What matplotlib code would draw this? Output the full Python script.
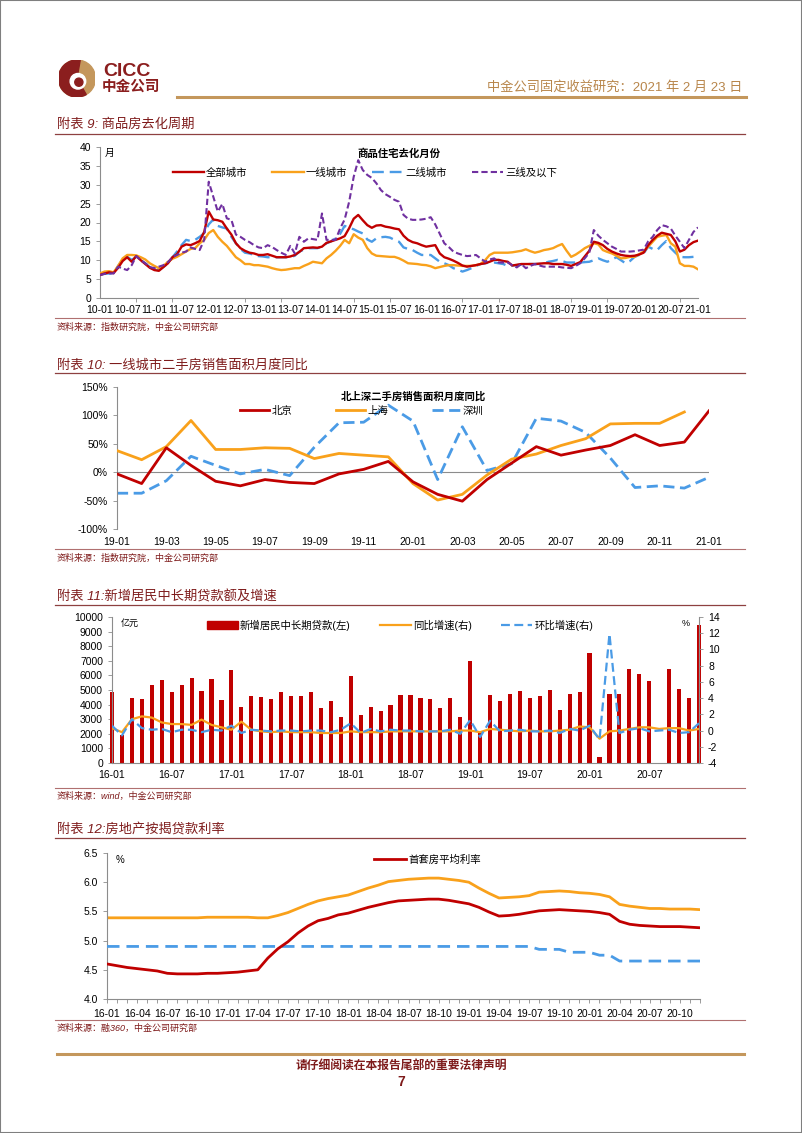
import numpy as np
import matplotlib
matplotlib.use('Agg')
import matplotlib.pyplot as plt
from matplotlib.lines import Line2D
from matplotlib.patches import Rectangle, Circle, Wedge, Patch

plt.rcParams['font.family'] = ['Liberation Sans', 'Noto Sans CJK SC']
plt.rcParams['axes.unicode_minus'] = False

# ---------------- data ----------------
# chart 1: 商品住宅去化月份, monthly 2010-01 .. 2021-01
c1_labels = ['10-01', '10-07', '11-01', '11-07', '12-01', '12-07', '13-01', '13-07',
             '14-01', '14-07', '15-01', '15-07', '16-01', '16-07', '17-01', '17-07',
             '18-01', '18-07', '19-01', '19-07', '20-01', '20-07', '21-01']
c1_all = [6.1, 6.5, 6.8, 6.6, 8.0, 9.8, 10.8, 9.6, 11.1, 10.0,
          9.0, 8.0, 7.4, 7.2, 8.2, 9.2, 10.8, 11.6, 13.6, 14.2,
          14.0, 14.5, 15.1, 17.5, 22.9, 20.8, 20.6, 20.2, 18.4, 16.8,
          14.5, 13.2, 12.5, 12.0, 11.8, 11.4, 11.4, 11.6, 11.2, 10.8,
          10.8, 10.8, 11.0, 11.4, 12.2, 13.2, 13.3, 13.4, 13.3, 13.6,
          14.6, 15.0, 15.4, 15.8, 16.4, 18.5, 21.0, 22.0, 20.6, 19.3,
          18.6, 19.2, 19.3, 18.9, 18.7, 18.4, 18.2, 16.5, 15.4, 14.8,
          14.5, 14.0, 13.6, 13.8, 14.0, 11.8, 10.8, 10.4, 9.9, 9.3,
          8.6, 8.3, 8.5, 8.7, 9.0, 9.2, 9.6, 10.1, 10.1, 9.8,
          9.6, 8.6, 8.8, 9.0, 9.0, 9.0, 9.0, 9.1, 9.2, 9.2,
          9.0, 9.0, 9.0, 8.8, 8.5, 9.0, 9.5, 11.0, 12.5, 14.9,
          14.6, 14.0, 13.0, 12.3, 11.8, 11.4, 11.2, 11.1, 11.2, 11.5,
          12.0, 14.0, 15.4, 16.5, 17.3, 17.0, 16.7, 15.0, 12.3, 12.8,
          14.0, 14.8, 15.2]
c1_tier1 = [6.5, 7.0, 7.1, 6.8, 8.5, 10.5, 11.4, 11.4, 11.3, 10.8,
            10.2, 9.2, 8.5, 7.9, 8.5, 9.6, 10.4, 10.9, 11.6, 12.3,
            13.0, 13.2, 14.5, 15.4, 17.2, 18.0, 16.2, 14.9, 13.8, 12.3,
            10.8, 10.0, 9.0, 9.0, 8.7, 8.7, 8.5, 8.3, 7.9, 7.6,
            7.4, 7.5, 7.7, 7.9, 7.9, 8.5, 9.0, 9.6, 9.4, 9.2,
            10.5, 11.4, 12.5, 13.8, 15.4, 14.5, 16.9, 16.0, 15.4, 13.2,
            11.8, 11.2, 11.1, 11.0, 10.9, 10.9, 10.5, 9.9, 9.2, 9.1,
            9.0, 8.8, 8.7, 8.4, 7.9, 8.2, 8.5, 8.7, 8.7, 8.6,
            8.5, 8.5, 8.5, 8.7, 9.0, 10.0, 11.4, 12.0, 12.0, 12.0,
            12.0, 12.1, 12.3, 12.5, 12.9, 12.4, 12.0, 12.3, 12.7, 12.9,
            13.2, 13.8, 14.3, 12.5, 10.9, 11.5, 12.3, 13.2, 13.8, 14.5,
            14.2, 12.7, 12.2, 11.8, 11.2, 10.5, 10.6, 10.9, 10.9, 11.6,
            12.3, 13.6, 14.9, 16.2, 16.5, 16.7, 14.5, 13.6, 9.2, 8.5,
            8.5, 8.3, 7.6]
c1_tier2 = [6.1, 6.4, 6.5, 6.5, 8.5, 10.2, 10.9, 10.1, 10.9, 10.0,
            9.2, 8.2, 7.5, 7.4, 8.2, 9.2, 10.8, 12.3, 14.0, 15.4,
            15.1, 15.4, 16.2, 17.2, 19.5, 20.8, 19.1, 18.7, 18.4, 16.2,
            14.5, 13.0, 12.0, 11.8, 11.4, 11.1, 11.0, 10.8, 10.8, 10.8,
            10.8, 10.8, 10.8, 11.2, 12.3, 12.8, 13.2, 13.2, 13.2, 13.6,
            14.5, 15.0, 15.8, 17.0, 19.1, 18.6, 18.2, 17.6, 17.1, 15.5,
            14.9, 15.8, 16.1, 16.2, 16.0, 15.4, 14.9, 13.4, 13.0, 12.7,
            12.0, 11.4, 11.4, 11.4, 10.5, 9.6, 9.2, 8.7, 7.9, 7.5,
            7.0, 7.4, 7.9, 8.5, 9.0, 9.2, 9.4, 9.4, 9.2, 9.0,
            8.5, 8.6, 8.7, 8.9, 9.0, 9.0, 9.0, 9.0, 9.2, 9.6,
            9.8, 10.1, 9.8, 9.4, 9.4, 9.4, 9.4, 9.5, 9.6, 10.0,
            10.5, 10.0, 9.6, 10.2, 10.8, 10.0, 9.2, 9.8, 10.9, 11.4,
            11.8, 13.6, 13.0, 12.7, 14.0, 15.1, 13.2, 12.0, 10.9, 10.8,
            10.8, 10.9, np.nan]
c1_tier3 = [6.1, 6.4, 6.5, 6.5, 8.3, 7.8, 7.4, 8.7, 11.1, 10.0,
            9.2, 8.2, 7.9, 8.3, 8.7, 9.5, 10.8, 11.4, 12.0, 12.3,
            13.4, 13.0, 12.7, 15.4, 30.8, 26.8, 22.9, 24.9, 21.1, 20.7,
            16.8, 16.2, 15.4, 14.8, 14.0, 13.4, 13.2, 14.0, 13.5, 12.7,
            12.0, 11.4, 13.8, 11.8, 16.2, 14.9, 15.8, 15.6, 15.4, 22.4,
            15.4, 15.4, 15.4, 18.4, 20.8, 25.5, 32.1, 36.5, 33.9, 32.6,
            31.8, 30.4, 28.6, 27.5, 26.8, 26.0, 25.5, 22.0, 21.0, 20.7,
            20.7, 20.8, 21.0, 21.4, 19.5, 17.0, 14.5, 13.5, 12.3, 11.8,
            11.4, 11.1, 11.2, 11.4, 10.5, 9.6, 10.2, 10.5, 9.4, 9.4,
            9.4, 8.7, 8.1, 9.0, 7.9, 8.5, 9.0, 8.6, 8.3, 8.3,
            8.3, 8.3, 8.1, 8.0, 7.9, 8.5, 9.2, 10.5, 12.0, 18.0,
            16.5, 15.4, 14.5, 13.6, 13.0, 12.3, 12.3, 12.3, 12.4, 12.6,
            12.8, 15.0, 16.2, 18.0, 19.3, 19.0, 18.4, 16.5, 14.9, 13.2,
            15.4, 17.5, 18.7]

# chart 2: 北上深二手房销售面积月度同比 (%), monthly 2019-01 .. 2021-01
c2_labels = ['19-01', '19-03', '19-05', '19-07', '19-09', '19-11', '20-01',
             '20-03', '20-05', '20-07', '20-09', '20-11', '21-01']
c2_bj = [-3, -20, 43, 12, -16, -24, -13, -18, -20, -3, 5, 19,
         -17, -39, -51, -13, 16, 45, 30, 39, 47, 66, 47, 53, 108]
c2_sh = [38, 22, 45, 91, 40, 40, 43, 42, 24, 33, 30, 27,
         -20, -49, -39, -5, 23, 32, 47, 59, 85, 86, 86, 106, np.nan]
c2_sz = [-37, -37, -15, 28, 12, -3, 5, -6, 44, 87, 88, 118,
         90, -13, 80, 3, 15, 95, 90, 70, 25, -27, -24, -28, -9]

# chart 3: 新增居民中长期贷款 (亿元) and growth (%), monthly 2016-01 .. 2020-12
c3_labels = ['16-01', '16-07', '17-01', '17-07', '18-01', '18-07', '19-01', '19-07', '20-01', '20-07']
c3_loans = [4870, 1900, 4450, 4350, 5350, 5700, 4850, 5370, 5800, 4950,
            5760, 4300, 6350, 3860, 4560, 4500, 4380, 4880, 4600, 4560,
            4830, 3750, 4220, 3160, 5960, 3270, 3810, 3590, 4000, 4670,
            4650, 4470, 4380, 3790, 4450, 3120, 7020, 2200, 4670, 4220,
            4740, 4900, 4470, 4600, 5000, 3630, 4740, 4880, 7560, 400,
            4740, 4720, 6410, 6120, 5620, np.nan, 6410, 5100, 4450, 9480]
c3_yoy = [0.3, -0.2, 1.4, 1.75, 1.6, 1.0, 0.8, 0.8, 0.7, 1.35,
          0.7, 0.4, 0.1, 1.1, 0.1, -0.1, -0.2, -0.1, -0.2, -0.2,
          -0.2, -0.3, -0.3, -0.3, -0.1, -0.2, -0.2, -0.2, -0.1, -0.1,
          -0.1, -0.1, -0.1, -0.1, -0.1, 0.0, 0.0, -0.2, 0.2, 0.1,
          0.0, -0.1, 0.0, -0.1, -0.1, 0.0, 0.1, 0.5, 0.4, -1.0,
          -0.1, 0.0, 0.2, 0.4, 0.4, 0.2, 0.3, 0.3, 0.0, 0.2]
c3_mom = [0.6, -0.6, 1.4, 0.3, 0.1, 0.2, -0.2, 0.1, 0.1, -0.2,
          0.1, 0.0, 0.6, -0.3, 0.1, 0.0, -0.1, 0.0, 0.0, -0.1,
          0.0, 0.0, -0.2, 0.1, 0.9, -0.3, 0.2, -0.1, 0.1, 0.0,
          0.0, -0.1, -0.1, -0.1, 0.1, -0.4, 1.3, -0.8, 1.2, -0.1,
          0.0, 0.1, -0.1, -0.1, 0.0, -0.3, 0.2, 0.0, 0.6, -1.1,
          11.9, -0.3, 0.1, 0.3, -0.1, 0.0, 0.1, -0.3, -0.2, 0.9]

# chart 4: 房地产按揭贷款利率 (%), monthly 2016-01 .. 2020-12
c4_labels = ['16-01', '16-04', '16-07', '16-10', '17-01', '17-04', '17-07', '17-10',
             '18-01', '18-04', '18-07', '18-10', '19-01', '19-04', '19-07', '19-10',
             '20-01', '20-04', '20-07', '20-10']
c4_first = [4.60, 4.57, 4.54, 4.52, 4.50, 4.48, 4.44, 4.43, 4.43, 4.43,
            4.44, 4.44, 4.45, 4.46, 4.48, 4.50, 4.70, 4.86, 4.98, 5.13,
            5.25, 5.34, 5.38, 5.44, 5.47, 5.52, 5.57, 5.61, 5.65, 5.68,
            5.69, 5.70, 5.71, 5.71, 5.69, 5.66, 5.63, 5.57, 5.49, 5.42,
            5.43, 5.45, 5.48, 5.51, 5.52, 5.53, 5.52, 5.51, 5.50, 5.48,
            5.45, 5.33, 5.28, 5.26, 5.25, 5.24, 5.24, 5.24, 5.23, 5.22]
c4_second = [5.39, 5.39, 5.39, 5.39, 5.39, 5.39, 5.39, 5.39, 5.39, 5.39,
             5.40, 5.40, 5.40, 5.40, 5.40, 5.39, 5.39, 5.43, 5.48, 5.55,
             5.62, 5.68, 5.72, 5.75, 5.78, 5.84, 5.90, 5.95, 6.01, 6.03,
             6.05, 6.06, 6.07, 6.07, 6.05, 6.03, 6.00, 5.90, 5.81, 5.73,
             5.74, 5.75, 5.77, 5.83, 5.84, 5.85, 5.84, 5.82, 5.81, 5.79,
             5.75, 5.62, 5.59, 5.57, 5.55, 5.55, 5.54, 5.54, 5.54, 5.53]
c4_base = [4.90] * 43 + [4.85] * 3 + [4.80] * 3 + [4.75] * 2 + [4.65] * 9

# ---------------- styles ----------------
RED = '#C00000'
ORANGE = '#F9A11B'
BLUE = '#4A9BE6'
PURPLE = '#7030A0'
DARK = '#7E1B1B'
GOLD = '#C4975C'
AXC = '#8C8C8C'
TICK = 7.5

W, H = 802, 1133
def fx(x): return x / W
def fy(y): return 1 - y / H
def box(l, t, r, b): return [fx(l), fy(b), (r - l) / W, (b - t) / H]

fig = plt.figure(figsize=(W / 100, H / 100), dpi=100)
fig.add_artist(Rectangle((0, 0), 1, 1, transform=fig.transFigure, fill=False,
                         edgecolor='#7F7F7F', lw=1.5))

# header / logo
axl = fig.add_axes(box(58, 60, 96, 97))
axl.set_xlim(-1, 1); axl.set_ylim(-1, 1); axl.set_aspect('equal'); axl.axis('off')
axl.add_patch(Circle((0, 0), 1, color=GOLD))
axl.add_patch(Wedge((0, 0), 1, 80, 300, color='#8B1E1E'))
axl.add_patch(Circle((0.05, -0.15), 0.42, color='white'))
axl.add_patch(Circle((0.1, -0.2), 0.22, color='#8B1E1E'))
fig.text(fx(103), fy(71), 'CICC', fontsize=14, fontweight='bold', color='#8B1E1E', va='center')
fig.text(fx(102), fy(87), '中金公司', fontsize=10.5, fontweight='bold', color='#8B1E1E', va='center')
fig.text(fx(742), fy(87), '中金公司固定收益研究：2021 年 2 月 23 日', fontsize=9.5,
         color='#B8864B', ha='right', va='center')
fig.add_artist(Line2D([fx(177), fx(746)], [fy(97)] * 2, color=GOLD, lw=2.2))

def section(title, yt, yl, ysl, src, ys):
    fig.text(fx(57), fy(yt), title, fontsize=9.5, color=DARK, va='center', style='italic')
    fig.add_artist(Line2D([fx(55), fx(745)], [fy(yl)] * 2, color='#8E4040', lw=0.9))
    fig.add_artist(Line2D([fx(55), fx(745)], [fy(ysl)] * 2, color='#B07070', lw=0.8))
    fig.text(fx(57), fy(ys), src, fontsize=6.5, color=DARK, va='center', style='italic')

def style_axis(ax):
    for s in ['top', 'right']:
        ax.spines[s].set_visible(False)
    for s in ['left', 'bottom']:
        ax.spines[s].set_color(AXC)
        ax.spines[s].set_linewidth(0.8)
    ax.tick_params(labelsize=TICK, colors='black', length=3, width=0.6)
    ax.tick_params(axis='y', color=AXC)
    ax.tick_params(axis='x', color=AXC)

# ---------------- chart 1 ----------------
section('附表 9: 商品房去化周期', 125, 134, 318, '资料来源：指数研究院，中金公司研究部', 327)
ax1 = fig.add_axes(box(100, 147, 698, 298))
x1 = np.arange(len(c1_all))
ax1.plot(x1, c1_all, color=RED, lw=1.7, label='全部城市', zorder=4)
ax1.plot(x1, c1_tier1, color=ORANGE, lw=1.7, label='一线城市', zorder=3)
ax1.plot(x1, c1_tier2, color=BLUE, lw=1.7, ls=(0, (5, 2.5)), label='二线城市', zorder=2)
ax1.plot(x1, c1_tier3, color=PURPLE, lw=1.5, ls=(0, (3, 1.5)), label='三线及以下', zorder=5)
ax1.set_xlim(0, len(c1_all) - 1)
ax1.set_ylim(0, 40)
ax1.set_yticks(range(0, 41, 5))
ax1.set_xticks(range(0, len(c1_all), 6))
ax1.set_xticklabels(c1_labels)
ax1.set_xticks(range(8, len(c1_all), 8), minor=True)
style_axis(ax1)
ax1.tick_params(axis='x', which='major', length=0, pad=5)
ax1.tick_params(axis='x', which='minor', length=3, color=AXC)
ax1.text(0.008, 0.995, '月', transform=ax1.transAxes, fontsize=7, va='top')
ax1.text(0.5, 0.955, '商品住宅去化月份', transform=ax1.transAxes, fontsize=7.5,
         fontweight='bold', ha='center', va='center')
ax1.legend(loc='center', bbox_to_anchor=(fx(365), fy(173)), bbox_transform=fig.transFigure,
           ncol=4, frameon=False, fontsize=7.5, handlelength=3.0, handletextpad=0.2,
           columnspacing=2.4)

# ---------------- chart 2 ----------------
section('附表 10: 一线城市二手房销售面积月度同比', 365, 373, 549, '资料来源：指数研究院，中金公司研究部', 558)
ax2 = fig.add_axes(box(117, 387, 709, 529))
x2 = np.arange(len(c2_bj))
ax2.plot(x2, c2_bj, color=RED, lw=2.0, label='北京', zorder=4)
ax2.plot(x2, c2_sh, color=ORANGE, lw=2.0, label='上海', zorder=3)
ax2.plot(x2, c2_sz, color=BLUE, lw=2.0, ls=(0, (4, 2)), label='深圳', zorder=2)
ax2.axhline(0, color=AXC, lw=0.8, zorder=1)
ax2.set_xlim(0, len(c2_bj) - 1)
ax2.set_ylim(-100, 150)
ax2.set_yticks(range(-100, 151, 50))
ax2.set_yticklabels([f'{v}%' for v in range(-100, 151, 50)])
ax2.set_xticks(range(0, len(c2_bj), 2))
ax2.set_xticklabels(c2_labels)
style_axis(ax2)
ax2.spines['bottom'].set_visible(False)
ax2.tick_params(axis='x', length=0, pad=6)
ax2.text(0.5, 0.935, '北上深二手房销售面积月度同比', transform=ax2.transAxes, fontsize=7.5,
         fontweight='bold', ha='center', va='center')
ax2.legend(loc='center', bbox_to_anchor=(fx(362), fy(411)), bbox_transform=fig.transFigure,
           ncol=3, frameon=False, fontsize=7.5, handlelength=2.8, handletextpad=0.2,
           columnspacing=4.2)

# ---------------- chart 3 ----------------
section('附表 11:新增居民中长期贷款额及增速', 597, 605, 788, '资料来源：wind，中金公司研究部', 796)
ax3 = fig.add_axes(box(112, 617, 699, 763))
x3 = np.arange(len(c3_loans))
ax3.bar(x3, c3_loans, width=0.42, color=RED, clip_on=False, zorder=2)
ax3.set_xlim(0, len(c3_loans) - 1)
ax3.set_ylim(0, 10000)
ax3.set_yticks(range(0, 10001, 1000))
ax3.set_xticks(range(0, len(c3_loans), 6))
ax3.set_xticklabels(c3_labels)
style_axis(ax3)
ax3.tick_params(axis='x', length=0, pad=5)
ax3r = ax3.twinx()
ax3r.plot(x3, c3_yoy, color=ORANGE, lw=1.6, zorder=3)
ax3r.plot(x3, c3_mom, color=BLUE, lw=1.6, ls=(0, (4, 2)), zorder=4)
ax3r.set_ylim(-4, 14)
ax3r.set_yticks(range(-4, 15, 2))
for s in ['top', 'left', 'bottom']:
    ax3r.spines[s].set_visible(False)
ax3r.spines['right'].set_color(AXC)
ax3r.spines['right'].set_linewidth(0.8)
ax3r.tick_params(labelsize=TICK, length=3, width=0.6, color=AXC)
ax3.text(0.015, 0.985, '亿元', transform=ax3.transAxes, fontsize=6.5, va='top')
ax3r.text(0.985, 0.985, '%', transform=ax3r.transAxes, fontsize=6.5, va='top', ha='right')
h3 = [Patch(color=RED), Line2D([], [], color=ORANGE, lw=1.6),
      Line2D([], [], color=BLUE, lw=1.6, ls=(0, (4, 2)))]
ax3r.legend(h3, ['新增居民中长期贷款(左)', '同比增速(右)', '环比增速(右)'], loc='center',
            bbox_to_anchor=(fx(400), fy(625)), bbox_transform=fig.transFigure, ncol=3,
            frameon=False, fontsize=7.5, handlelength=3.0, handleheight=0.7,
            handletextpad=0.2, columnspacing=2.8)

# ---------------- chart 4 ----------------
section('附表 12:房地产按揭贷款利率', 830, 838, 1020, '资料来源：融360，中金公司研究部', 1028)
ax4 = fig.add_axes(box(107, 853, 700, 999))
x4 = np.arange(len(c4_first))
ax4.plot(x4, c4_second, color=ORANGE, lw=2.0, zorder=2)
ax4.plot(x4, c4_base, color=BLUE, lw=2.0, ls=(0, (4.5, 2.5)), zorder=3)
ax4.plot(x4, c4_first, color=RED, lw=2.0, label='首套房平均利率', zorder=4)
ax4.set_xlim(0, len(c4_first) - 1)
ax4.set_ylim(4.0, 6.5)
ax4.set_yticks(np.arange(4.0, 6.51, 0.5))
ax4.set_yticklabels([f'{v:.1f}' for v in np.arange(4.0, 6.51, 0.5)])
ax4.set_xticks(range(0, len(c4_first), 3))
ax4.set_xticklabels(c4_labels)
ax4.set_xticks(range(0, len(c4_first)), minor=True)
style_axis(ax4)
ax4.tick_params(axis='x', which='major', length=3, pad=4)
ax4.tick_params(axis='x', which='minor', length=3, color=AXC, width=0.6)
ax4.text(0.015, 0.985, '%', transform=ax4.transAxes, fontsize=7, va='top')
ax4.legend(loc='center', bbox_to_anchor=(fx(428), fy(860)), bbox_transform=fig.transFigure,
           frameon=False, fontsize=7.5, handlelength=3.0, handletextpad=0.3)

# footer
fig.add_artist(Line2D([fx(57), fx(744)], [fy(1054)] * 2, color=GOLD, lw=2.2))
fig.text(0.5, fy(1067), '请仔细阅读在本报告尾部的重要法律声明', fontsize=8.5, color=DARK,
         ha='center', va='center', style='italic', fontweight='bold')
fig.text(0.5, fy(1082), '7', fontsize=10, color=DARK, ha='center', va='center', fontweight='bold')

fig.savefig('out.png', dpi=100)
